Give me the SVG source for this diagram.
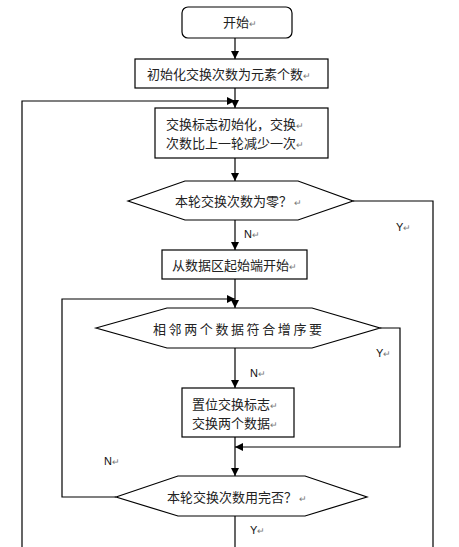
<svg xmlns="http://www.w3.org/2000/svg" width="459" height="547" viewBox="0 0 459 547">
<defs>
<marker id="ah" viewBox="0 0 10 10" refX="10" refY="5" markerWidth="8" markerHeight="8" markerUnits="userSpaceOnUse" orient="auto">
<path d="M0,0 L10,5 L0,10 z" fill="#000"/>
</marker>
</defs>
<style>
.box{fill:#fff;stroke:#000;stroke-width:1.2}
.ln{fill:none;stroke:#000;stroke-width:1.2}
.t{font-family:"Noto Sans CJK SC","Liberation Sans",sans-serif;font-size:13px;fill:#222}
.lb{font-family:"Liberation Sans",Arial,sans-serif;font-size:11px;fill:#111}
.r{fill:#777;font-size:9px}
</style>
<rect width="459" height="547" fill="#fff"/>
<g id="connectors">
<line class="ln" x1="235" y1="38" x2="235" y2="59" marker-end="url(#ah)"/>
<line class="ln" x1="235" y1="88" x2="235" y2="108" marker-end="url(#ah)"/>
<polyline class="ln" points="22,547 22,101 235,101" marker-end="url(#ah)"/>
<line class="ln" x1="235" y1="158" x2="235" y2="181" marker-end="url(#ah)"/>
<polyline class="ln" points="353,201 433,201 433,547"/>
<line class="ln" x1="235" y1="220" x2="235" y2="250" marker-end="url(#ah)"/>
<line class="ln" x1="235" y1="279" x2="235" y2="308" marker-end="url(#ah)"/>
<polyline class="ln" points="116,497 62,497 62,299 235,299" marker-end="url(#ah)"/>
<line class="ln" x1="235" y1="348" x2="235" y2="388" marker-end="url(#ah)"/>
<polyline class="ln" points="380,328 400,328 400,447 235,447" marker-end="url(#ah)"/>
<line class="ln" x1="235" y1="437" x2="235" y2="476" marker-end="url(#ah)"/>
<line class="ln" x1="235" y1="516" x2="235" y2="547"/>
<text class="lb" x="396" y="231">Y<tspan class="r">↵</tspan></text>
<text class="lb" x="244" y="238">N<tspan class="r">↵</tspan></text>
<text class="lb" x="376" y="357">Y<tspan class="r">↵</tspan></text>
<text class="lb" x="250" y="377">N<tspan class="r">↵</tspan></text>
<text class="lb" x="104" y="465">N<tspan class="r">↵</tspan></text>
<text class="lb" x="250" y="534">Y<tspan class="r">↵</tspan></text>
</g>
<g id="start">
<rect class="box" x="182" y="7" width="110" height="31" rx="6"/>
<text class="t" x="223" y="27">开始<tspan class="r">↵</tspan></text>
</g>
<g id="init">
<rect class="box" x="135" y="59" width="193" height="29"/>
<text class="t" x="147" y="79">初始化交换次数为元素个数<tspan class="r">↵</tspan></text>
</g>
<g id="reset">
<rect class="box" x="155" y="108" width="173" height="50"/>
<text class="t" x="166" y="129">交换标志初始化，交换<tspan class="r">↵</tspan></text>
<text class="t" x="166" y="148">次数比上一轮减少一次<tspan class="r">↵</tspan></text>
</g>
<g id="zero">
<polygon class="box" points="128,201 185,181 298,181 353,201 298,220 185,220"/>
<text class="t" x="175" y="206">本轮交换次数为零？<tspan class="r"> ↵</tspan></text>
</g>
<g id="from">
<rect class="box" x="162" y="250" width="145" height="29"/>
<text class="t" x="172" y="270">从数据区起始端开始<tspan class="r">↵</tspan></text>
</g>
<g id="compare">
<polygon class="box" points="96,328 167,308 312,308 380,328 312,348 167,348"/>
<text class="t" x="153" y="334" letter-spacing="2.6">相邻两个数据符合增序要</text>
</g>
<g id="swap">
<rect class="box" x="182" y="388" width="112" height="49"/>
<text class="t" x="192" y="409">置位交换标志<tspan class="r">↵</tspan></text>
<text class="t" x="192" y="428">交换两个数据<tspan class="r">↵</tspan></text>
</g>
<g id="done">
<polygon class="box" points="116,497 178,476 305,476 367,497 305,516 178,516"/>
<text class="t" x="167" y="502">本轮交换次数用完否？<tspan class="r"> ↵</tspan></text>
</g>
</svg>
